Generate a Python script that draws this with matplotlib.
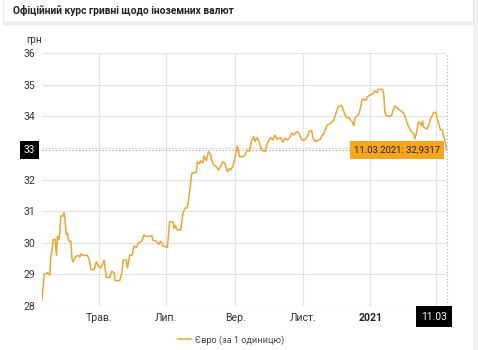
import matplotlib
matplotlib.use("Agg")
import matplotlib.pyplot as plt
import matplotlib.dates as mdates
from matplotlib.patches import Rectangle
import pandas as pd

plt.rcParams['font.family'] = ['Roboto', 'DejaVu Sans']

title = "Офіційний курс гривні щодо іноземних валют"
unit_label = "грн"
series_name = "Євро (за 1 одиницю)"

dates = [
    "2020-03-11", "2020-03-13", "2020-03-16", "2020-03-18", "2020-03-19", "2020-03-20",
    "2020-03-21", "2020-03-23", "2020-03-24", "2020-03-25", "2020-03-26", "2020-03-27",
    "2020-03-28", "2020-03-30", "2020-03-31", "2020-04-02", "2020-04-03", "2020-04-04",
    "2020-04-06", "2020-04-07", "2020-04-08", "2020-04-10", "2020-04-12", "2020-04-14",
    "2020-04-15", "2020-04-17", "2020-04-21", "2020-04-23", "2020-04-24", "2020-04-27",
    "2020-04-29", "2020-05-01", "2020-05-03", "2020-05-06", "2020-05-08", "2020-05-11",
    "2020-05-13", "2020-05-15", "2020-05-16", "2020-05-20", "2020-05-22", "2020-05-23",
    "2020-05-26", "2020-05-27", "2020-05-29", "2020-05-31", "2020-06-02", "2020-06-04",
    "2020-06-06", "2020-06-09", "2020-06-11", "2020-06-12", "2020-06-14", "2020-06-18",
    "2020-06-19", "2020-06-22", "2020-06-24", "2020-06-26", "2020-06-28", "2020-07-02",
    "2020-07-04", "2020-07-07", "2020-07-08", "2020-07-09", "2020-07-11", "2020-07-14",
    "2020-07-16", "2020-07-18", "2020-07-20", "2020-07-22", "2020-07-24", "2020-07-28",
    "2020-07-29", "2020-07-31", "2020-08-01", "2020-08-03", "2020-08-04", "2020-08-06",
    "2020-08-08", "2020-08-10", "2020-08-11", "2020-08-13", "2020-08-15", "2020-08-17",
    "2020-08-19", "2020-08-21", "2020-08-23", "2020-08-25", "2020-08-27", "2020-08-28",
    "2020-08-30", "2020-09-01", "2020-09-03", "2020-09-05", "2020-09-08", "2020-09-10",
    "2020-09-12", "2020-09-14", "2020-09-16", "2020-09-18", "2020-09-19", "2020-09-21",
    "2020-09-23", "2020-09-25", "2020-09-28", "2020-09-30", "2020-10-03", "2020-10-05",
    "2020-10-07", "2020-10-09", "2020-10-12", "2020-10-14", "2020-10-16", "2020-10-18",
    "2020-10-20", "2020-10-22", "2020-10-24", "2020-10-26", "2020-10-28", "2020-10-30",
    "2020-10-31", "2020-11-03", "2020-11-05", "2020-11-07", "2020-11-09", "2020-11-10",
    "2020-11-11", "2020-11-13", "2020-11-15", "2020-11-17", "2020-11-18", "2020-11-20",
    "2020-11-21", "2020-11-23", "2020-11-25", "2020-11-27", "2020-11-29", "2020-12-01",
    "2020-12-03", "2020-12-06", "2020-12-07", "2020-12-09", "2020-12-11", "2020-12-13",
    "2020-12-16", "2020-12-17", "2020-12-18", "2020-12-21", "2020-12-22", "2020-12-24",
    "2020-12-25", "2020-12-28", "2020-12-29", "2020-12-31", "2021-01-03", "2021-01-05",
    "2021-01-07", "2021-01-08", "2021-01-12", "2021-01-13", "2021-01-14", "2021-01-15",
    "2021-01-18", "2021-01-20", "2021-01-21", "2021-01-23", "2021-01-24", "2021-01-27",
    "2021-01-29", "2021-01-31", "2021-02-02", "2021-02-04", "2021-02-06", "2021-02-09",
    "2021-02-10", "2021-02-12", "2021-02-13", "2021-02-14", "2021-02-16", "2021-02-17",
    "2021-02-18", "2021-02-21", "2021-02-23", "2021-02-24", "2021-02-27", "2021-03-01",
    "2021-03-02", "2021-03-04", "2021-03-05", "2021-03-07", "2021-03-08", "2021-03-09",
    "2021-03-10", "2021-03-11",
]

euro = [
    28.20, 29.00, 29.05, 28.98, 29.60, 29.75,
    30.10, 30.10, 29.60, 30.20, 30.10, 30.30,
    30.85, 30.85, 30.95, 30.25, 30.30, 30.05,
    30.05, 29.50, 29.40, 29.55, 29.60, 29.55,
    29.65, 29.60, 29.60, 29.40, 29.15, 29.15,
    29.40, 29.25, 29.20, 29.45, 28.90, 28.90,
    29.10, 29.05, 28.80, 28.80, 29.05, 29.45,
    29.45, 29.20, 29.60, 29.60, 29.90, 29.85,
    30.00, 30.05, 30.25, 30.20, 30.20, 30.22,
    30.08, 30.05, 29.95, 30.05, 29.90, 29.85,
    30.66, 30.66, 30.45, 30.55, 30.40, 30.40,
    30.93, 31.10, 31.10, 31.60, 32.20, 32.22,
    32.56, 32.50, 32.60, 32.53, 32.74, 32.60,
    32.88, 32.78, 32.60, 32.45, 32.42, 32.30,
    32.42, 32.56, 32.50, 32.25, 32.35, 32.30,
    32.42, 32.72, 33.06, 32.72, 32.72, 32.78,
    32.93, 32.90, 33.25, 33.35, 33.20, 33.33,
    33.15, 32.93, 32.88, 33.15, 33.33, 33.25,
    33.40, 33.27, 33.33, 33.18, 33.30, 33.25,
    33.30, 33.47, 33.40, 33.50, 33.50, 33.35,
    33.25, 33.25, 33.35, 33.53, 33.55, 33.35,
    33.25, 33.20, 33.25, 33.27, 33.38, 33.45,
    33.55, 33.72, 33.76, 33.80, 33.90, 34.10,
    34.30, 34.35, 34.25, 34.05, 33.95, 33.95,
    33.80, 33.70, 33.95, 34.05, 34.10, 34.45,
    34.55, 34.50, 34.60, 34.66, 34.70, 34.80,
    34.75, 34.85, 34.85, 34.70, 34.15, 34.02,
    34.00, 34.02, 34.15, 34.32, 34.30, 34.20,
    34.15, 34.10, 33.90, 33.70, 33.55, 33.45,
    33.28, 33.55, 33.80, 33.82, 33.70, 33.85,
    33.65, 33.60, 33.75, 33.90, 34.12, 34.12,
    33.95, 33.70, 33.58, 33.55, 33.35, 33.28,
    33.07, 32.9317,
]

y_ticks = [28, 29, 30, 31, 32, 33, 34, 35, 36]
# March 2021 label is hidden under the crosshair date box in the reference
month_names = {1: "", 3: "", 5: "Трав.", 7: "Лип.", 9: "Вер.", 11: "Лист."}

W, H = 478, 350
fig = plt.figure(figsize=(W / 100, H / 100), dpi=100)
fig.patch.set_facecolor("white")


def px_rect(x0, y0, x1, y1, **kw):
    fig.patches.append(Rectangle((x0 / W, 1 - y1 / H), (x1 - x0) / W, (y1 - y0) / H,
                                 transform=fig.transFigure, figure=fig, **kw))


px_rect(473, 0, 478, 350, facecolor="#f3f2f1", edgecolor="none")
px_rect(3, 22, 473, 26, facecolor="#f3f2f1", edgecolor="none")
px_rect(3, -2, 473, 22, facecolor="white", edgecolor="#e6e8e6", linewidth=0.8)

fig.text(13 / W, 1 - 11 / H, title, fontsize=7.4, fontweight="bold", color="#222222",
         ha="left", va="center")

ax = fig.add_axes([42 / W, 1 - 306 / H, (447 - 42) / W, (306 - 53) / H])
ax.set_facecolor("white")

x = pd.to_datetime(dates)
line_color = "#f0a433"
ax.plot(x, euro, color=line_color, lw=1.1, zorder=3, label=series_name)

ax.set_xlim(x[0], x[-1])
ax.set_ylim(28, 36)
ax.set_yticks(y_ticks)
ax.set_yticklabels([str(v) for v in y_ticks])

ax.xaxis.set_major_locator(mdates.MonthLocator(bymonth=[1, 3, 5, 7, 9, 11]))


def fmt(val, pos):
    d = mdates.num2date(val)
    if d.month == 1:
        return str(d.year)
    return month_names[d.month]


ax.xaxis.set_major_formatter(plt.FuncFormatter(fmt))

ax.grid(True, color="#e4e4e4", lw=0.9)
ax.set_axisbelow(True)
for s in ax.spines.values():
    s.set_visible(False)
ax.tick_params(axis="both", length=0, labelsize=7.6, colors="#333333")
ax.tick_params(axis="y", pad=5)
ax.tick_params(axis="x", pad=5)

fig.canvas.draw()
for lbl in ax.get_xticklabels():
    if lbl.get_text().isdigit():
        lbl.set_fontweight("bold")
        lbl.set_color("#222222")

ax.text(-16 / 405, 1 + 13 / 253, unit_label, transform=ax.transAxes, fontsize=7.2,
        color="#333333", ha="left", va="center")

# crosshair
last_x, last_y = x[-1], euro[-1]
ax.axhline(last_y, color="#999999", lw=0.8, ls=(0, (1, 2)), zorder=2)
ax.axvline(last_x, color="#aaaaaa", lw=0.8, ls=(0, (1, 2)), zorder=2, clip_on=False)

ax.annotate(f"{last_x:%d.%m.%Y}: {str(last_y).replace('.', ',')}",
            xy=(last_x, last_y), xytext=(-5, 0), textcoords="offset points",
            ha="right", va="center", fontsize=6.8, color="#222222", zorder=6,
            bbox=dict(boxstyle="square,pad=0.45", fc="#f6a51e", ec="none"))

ax.annotate(f"{int(round(last_y))}", xy=(0, last_y), xycoords=("axes fraction", "data"),
            xytext=(-5, 0), textcoords="offset points", ha="right", va="center",
            fontsize=7.2, color="white", zorder=6,
            bbox=dict(boxstyle="square,pad=0.4", fc="black", ec="none"))

ax.annotate(f"{last_x:%d.%m}", xy=(last_x, 0), xycoords=("data", "axes fraction"),
            xytext=(0, -4), textcoords="offset points", ha="right", va="top",
            fontsize=7.4, color="white", zorder=6, annotation_clip=False,
            bbox=dict(boxstyle="square,pad=0.5", fc="black", ec="none"))

leg = fig.legend(loc="center", bbox_to_anchor=(231 / W, 1 - 340 / H), frameon=False,
                 fontsize=6.6, handlelength=1.4, handletextpad=0.4)
for t in leg.get_texts():
    t.set_color("#444444")

fig.savefig("out.png", dpi=100, facecolor=fig.get_facecolor())
